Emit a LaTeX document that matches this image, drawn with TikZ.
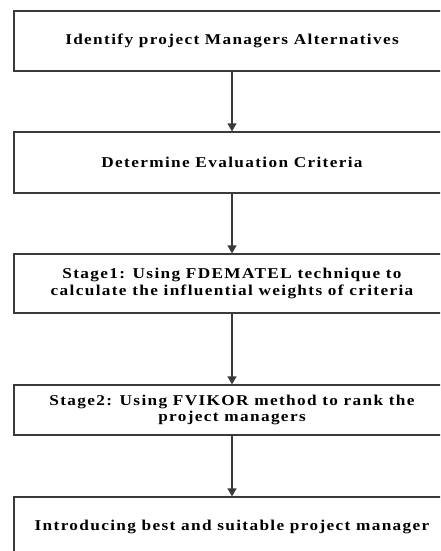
\documentclass[tikz,border=0pt]{standalone}
\usepackage{fontspec}
\setmainfont{Liberation Serif}[LetterSpace=9,FakeStretch=1.15]
\usetikzlibrary{arrows.meta}
\definecolor{lineg}{HTML}{3A3A3A}
\tikzset{
  stepbox/.style={draw=lineg, line width=1.3pt, minimum width=436pt, inner sep=0pt,
    align=center, font=\bfseries\fontsize{15}{16.5}\selectfont, text=black},
  flow/.style={draw=lineg, line width=1.3pt, -{Triangle[width=9pt,length=8pt]}}
}
\begin{document}
\begin{tikzpicture}[x=1pt,y=1pt]
\useasboundingbox (0,0) rectangle (440,-551);
\clip (0,0) rectangle (440,-551);
\node[stepbox, minimum height=60pt] (b1) at (232,-41) {Identify project Managers Alternatives};
\node[stepbox, minimum height=61pt] (b2) at (232,-162.5) {Determine Evaluation Criteria};
\node[stepbox, minimum height=59pt] (b3) at (232,-283.5) {Stage1: Using FDEMATEL technique to\\calculate the influential weights of criteria};
\node[stepbox, minimum height=50pt] (b4) at (232,-410) {Stage2: Using FVIKOR method to rank the\\project managers};
\node[stepbox, minimum height=60pt] (b5) at (232,-527) {Introducing best and suitable project manager};
\draw[flow] (b1.south) -- (b2.north);
\draw[flow] (b2.south) -- (b3.north);
\draw[flow] (b3.south) -- (b4.north);
\draw[flow] (b4.south) -- (b5.north);
\end{tikzpicture}
\end{document}
